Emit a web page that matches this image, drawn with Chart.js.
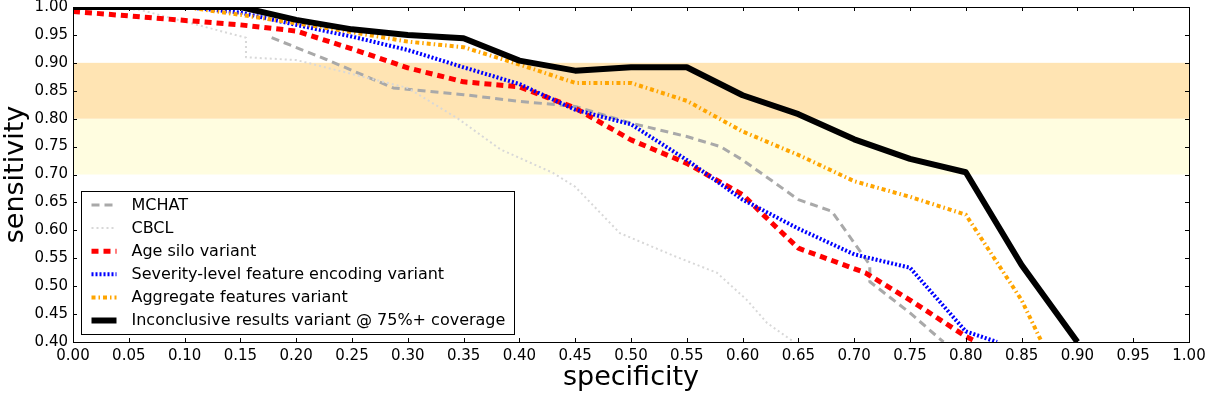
<!DOCTYPE html>
<html>
<head>
<meta charset="utf-8">
<script src="https://cdn.jsdelivr.net/npm/chart.js@4/dist/chart.umd.min.js"></script>
<style>
  html, body { margin: 0; padding: 0; background: #fff; }
  #wrap { width: 1206px; height: 394px; }
</style>
</head>
<body>
<div id="wrap"><canvas id="roc" width="1206" height="394"></canvas></div>
<script>
/* valeurs (specificity -> sensitivity) */
const mchatSpec = [0.178, 0.227, 0.287, 0.35, 0.40, 0.45, 0.50, 0.55, 0.58, 0.60, 0.65, 0.68, 0.714, 0.714, 0.75, 0.78];
const mchatSens = [0.945, 0.906, 0.855, 0.843, 0.831, 0.822, 0.792, 0.768, 0.75, 0.726, 0.655, 0.634, 0.538, 0.508, 0.452, 0.40];

const cbclSpec = [0, 0.06, 0.155, 0.155, 0.20, 0.25, 0.30, 0.345, 0.383, 0.43, 0.45, 0.49, 0.54, 0.577, 0.604, 0.622, 0.646];
const cbclSens = [1.0, 0.995, 0.945, 0.91, 0.905, 0.88, 0.855, 0.80, 0.745, 0.703, 0.678, 0.595, 0.553, 0.524, 0.475, 0.434, 0.40];

const ageSpec = [0, 0.15, 0.20, 0.25, 0.30, 0.35, 0.40, 0.45, 0.50, 0.55, 0.60, 0.62, 0.65, 0.71, 0.75, 0.80, 0.81];
const ageSens = [0.992, 0.968, 0.957, 0.925, 0.891, 0.866, 0.857, 0.819, 0.762, 0.72, 0.664, 0.625, 0.568, 0.524, 0.475, 0.41, 0.40];

const severitySpec = [0, 0.10, 0.15, 0.20, 0.25, 0.30, 0.35, 0.40, 0.45, 0.50, 0.55, 0.60, 0.65, 0.70, 0.75, 0.80, 0.828];
const severitySens = [1.0, 1.0, 0.99, 0.968, 0.947, 0.923, 0.892, 0.862, 0.816, 0.79, 0.726, 0.655, 0.603, 0.557, 0.533, 0.419, 0.40];

const aggSpec = [0, 0.10, 0.15, 0.20, 0.25, 0.30, 0.35, 0.40, 0.45, 0.50, 0.55, 0.60, 0.65, 0.70, 0.75, 0.80, 0.85, 0.868];
const aggSens = [1.0, 1.0, 0.986, 0.971, 0.955, 0.938, 0.928, 0.897, 0.864, 0.864, 0.832, 0.777, 0.735, 0.688, 0.66, 0.628, 0.475, 0.40];

const inconcSpec = [0, 0.15, 0.20, 0.25, 0.30, 0.35, 0.40, 0.45, 0.50, 0.55, 0.60, 0.65, 0.70, 0.75, 0.80, 0.85, 0.90];
const inconcSens = [1.0, 1.0, 0.977, 0.96, 0.95, 0.944, 0.904, 0.886, 0.892, 0.892, 0.842, 0.808, 0.763, 0.728, 0.704, 0.538, 0.40];

/* bandes horizontales de sensibilité */
const bandLow = [0.70, 0.80];
const bandHigh = [0.80, 0.90];

const labels = ["MCHAT", "CBCL", "Age silo variant", "Severity-level feature encoding variant",
  "Aggregate features variant", "Inconclusive results variant @ 75%+ coverage"];

const FONT = "'DejaVu Sans', sans-serif";

function pts(xs, ys) {
  return xs.map((x, i) => ({ x: x, y: ys[i] }));
}

function serie(i, xs, ys, color, width, dash, order) {
  return {
    label: labels[i],
    data: pts(xs, ys),
    borderColor: color,
    backgroundColor: color,
    borderWidth: width,
    borderDash: dash,
    borderCapStyle: "butt",
    borderJoinStyle: "round",
    pointRadius: 0,
    pointHoverRadius: 0,
    tension: 0,
    fill: false,
    clip: 0,
    order: order,
  };
}

const datasets = [
  serie(0, mchatSpec, mchatSens, "#a9a9a9", 3, [8, 5], 6),
  serie(1, cbclSpec, cbclSens, "#d8d8d8", 2, [2, 3], 5),
  serie(2, ageSpec, ageSens, "#ff0000", 5, [7, 5], 4),
  serie(3, severitySpec, severitySens, "#0000ff", 4, [2, 2], 3),
  serie(4, aggSpec, aggSens, "#ffa500", 4, [4, 3, 1.5, 3], 2),
  serie(5, inconcSpec, inconcSens, "#000000", 6, [], 1),
];

/* fond: bandes colorées */
const bands = {
  id: "bands",
  beforeDatasetsDraw(chart) {
    const { ctx, chartArea: a, scales: { y } } = chart;
    ctx.save();
    ctx.fillStyle = "rgb(255,253,224)";
    ctx.fillRect(a.left, y.getPixelForValue(bandLow[1]), a.width, y.getPixelForValue(bandLow[0]) - y.getPixelForValue(bandLow[1]));
    ctx.fillStyle = "rgb(255,228,179)";
    ctx.fillRect(a.left, y.getPixelForValue(bandHigh[1]), a.width, y.getPixelForValue(bandHigh[0]) - y.getPixelForValue(bandHigh[1]));
    ctx.restore();
  },
};

/* cadre + graduations vers l'intérieur, comme matplotlib */
const frame = {
  id: "frame",
  afterDatasetsDraw(chart) {
    const { ctx, chartArea: a, scales: { x, y } } = chart;
    ctx.save();
    ctx.strokeStyle = "#000";
    ctx.lineWidth = 1;
    ctx.beginPath();
    x.ticks.forEach(t => {
      const px = Math.round(x.getPixelForValue(t.value)) + 0.5;
      ctx.moveTo(px, a.bottom); ctx.lineTo(px, a.bottom - 4);
      ctx.moveTo(px, a.top); ctx.lineTo(px, a.top + 4);
    });
    y.ticks.forEach(t => {
      const py = Math.round(y.getPixelForValue(t.value)) + 0.5;
      ctx.moveTo(a.left, py); ctx.lineTo(a.left + 4, py);
      ctx.moveTo(a.right, py); ctx.lineTo(a.right - 4, py);
    });
    ctx.stroke();
    ctx.strokeRect(Math.round(a.left) + 0.5, Math.round(a.top) + 0.5, Math.round(a.width), Math.round(a.height));
    ctx.restore();
  },
};

/* légende en bas à gauche, dans le cadre */
const boxLegend = {
  id: "boxLegend",
  afterDraw(chart) {
    const { ctx, chartArea: a } = chart;
    const left = a.left + 8.5, top = a.bottom - 150.5, w = 433, h = 143, row = 23.1;
    ctx.save();
    ctx.fillStyle = "#fff";
    ctx.fillRect(left, top, w, h);
    ctx.strokeStyle = "#000";
    ctx.lineWidth = 1;
    ctx.strokeRect(left, top, w, h);
    ctx.font = "16px " + FONT;
    ctx.textBaseline = "middle";
    chart.data.datasets.forEach((ds, i) => {
      const cy = top + 13.5 + i * row;
      ctx.beginPath();
      ctx.strokeStyle = ds.borderColor;
      ctx.lineWidth = ds.borderWidth;
      ctx.setLineDash(ds.borderDash);
      ctx.lineCap = "butt";
      ctx.moveTo(left + 10, cy);
      ctx.lineTo(left + 35, cy);
      ctx.stroke();
      ctx.setLineDash([]);
      ctx.fillStyle = "#000";
      ctx.fillText(ds.label, left + 50, cy + 0.5);
    });
    ctx.restore();
  },
};

const ctxRoc = document.getElementById("roc").getContext("2d");
const rocChart = new Chart(ctxRoc, {
  type: "line",
  data: { datasets: datasets },
  options: {
    responsive: false,
    animation: false,
    layout: { padding: { top: 7, right: 17, left: 0, bottom: 0 } },
    plugins: { legend: { display: false }, tooltip: { enabled: false } },
    scales: {
      x: {
        type: "linear",
        min: 0, max: 1,
        grid: { display: false, drawTicks: false },
        border: { display: false },
        ticks: {
          stepSize: 0.05, autoSkip: false, maxRotation: 0, padding: 5,
          color: "#000", font: { family: FONT, size: 15 },
          callback: v => v.toFixed(2),
        },
        title: {
          display: true, text: "specificity", color: "#000",
          font: { family: FONT, size: 27 }, padding: { top: 0, bottom: 0 },
        },
        afterFit(s) { s.height = 52; s.paddingLeft = 0; s.paddingRight = 0; },
      },
      y: {
        type: "linear",
        min: 0.4, max: 1.0,
        grid: { display: false, drawTicks: false },
        border: { display: false },
        ticks: {
          stepSize: 0.05, autoSkip: false, padding: 5,
          color: "#000", font: { family: FONT, size: 15 },
          callback: v => v.toFixed(2),
        },
        title: {
          display: true, text: "sensitivity", color: "#000",
          font: { family: FONT, size: 27 }, padding: { top: 0, bottom: 0 },
        },
        afterFit(s) { s.width = 73; s.paddingTop = 0; s.paddingBottom = 0; },
      },
    },
  },
  plugins: [bands, frame, boxLegend],
});
</script>
</body>
</html>
